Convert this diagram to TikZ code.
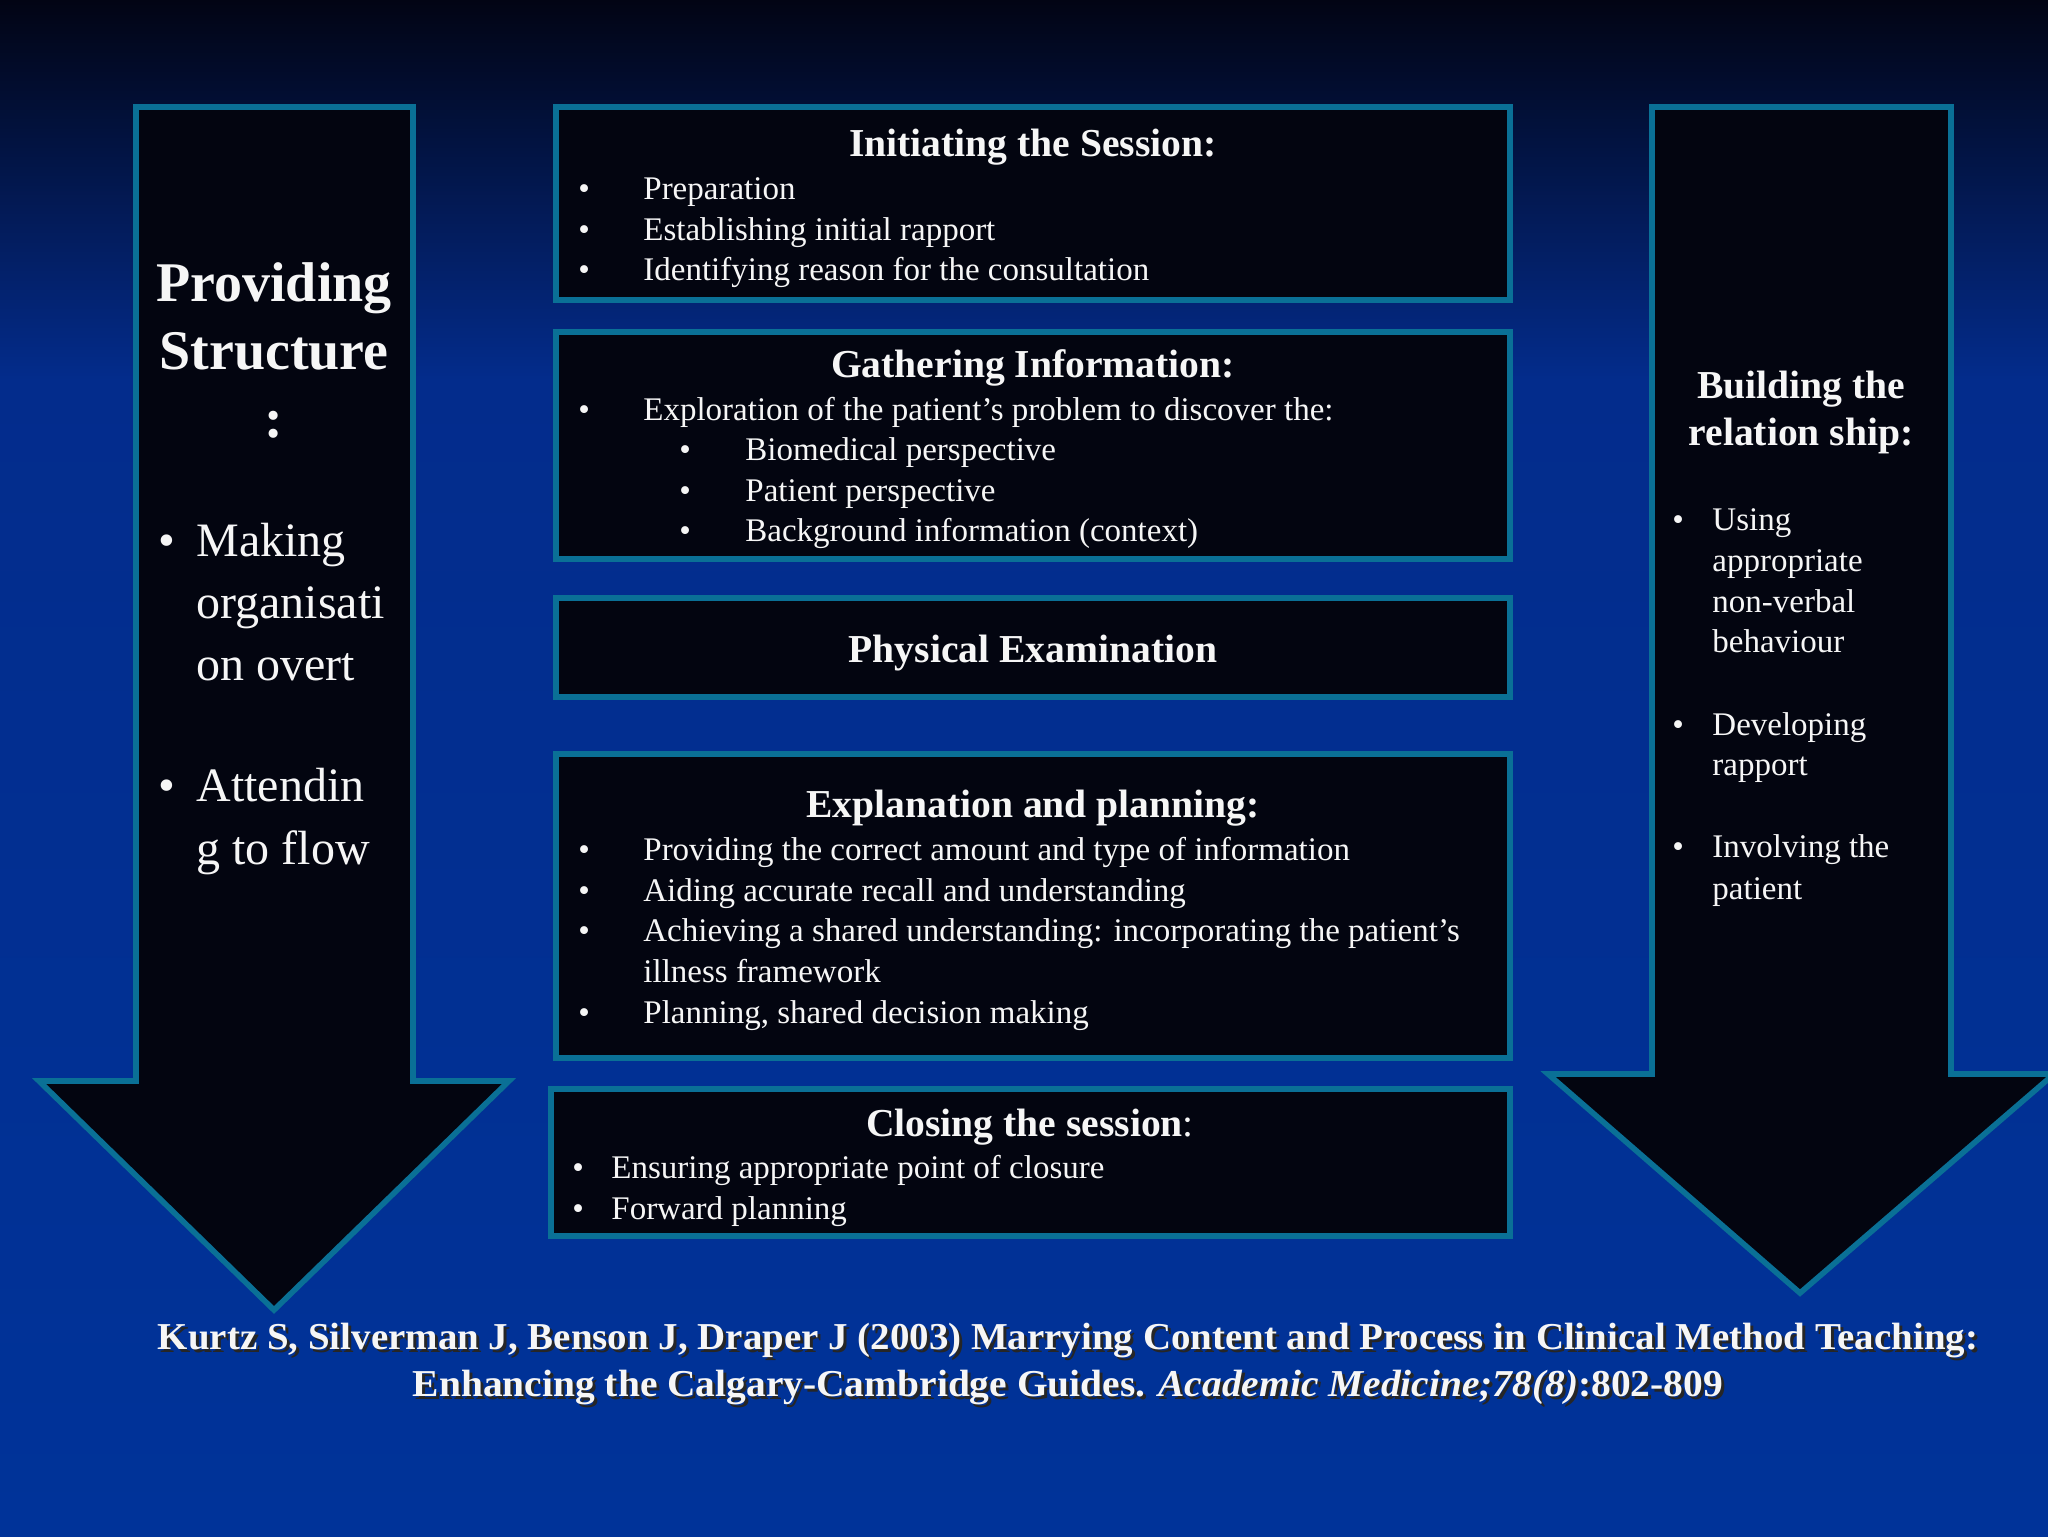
\documentclass[tikz,border=0pt]{standalone}
\usepackage{fontspec}
\setmainfont{Liberation Serif}
\definecolor{bordc}{RGB}{10,112,150}
\definecolor{boxfill}{RGB}{3,5,16}
\definecolor{bgtop}{RGB}{2,4,20}
\definecolor{bgupper}{RGB}{3,18,54}
\definecolor{bgmid}{RGB}{3,44,140}
\definecolor{bgbot}{RGB}{0,51,153}
\definecolor{txt}{RGB}{246,246,246}
\begin{document}
\begin{tikzpicture}[x=0.5pt,y=-0.5pt,
  panel/.style={draw=bordc, line width=2.8pt, fill=boxfill, line join=miter},
  body/.style={inner sep=0pt, anchor=base west, text=txt, font=\fontsize{16.5}{20}\selectfont},
  ttl/.style={inner sep=0pt, anchor=base, text=txt, font=\fontsize{19.8}{24}\selectfont\bfseries},
  bigttl/.style={inner sep=0pt, anchor=base, text=txt, font=\fontsize{28}{32}\selectfont\bfseries},
  bigbody/.style={inner sep=0pt, anchor=base west, text=txt, font=\fontsize{24}{28}\selectfont},
  cite/.style={inner sep=0pt, anchor=base, text=txt, font=\fontsize{19}{22}\selectfont\bfseries},
  citeshadow/.style={cite, text=black!85}
]
\useasboundingbox (0,0) rectangle (2048,1536);
% background
\shade[top color=bgtop, middle color=bgupper, bottom color=bgmid] (0,0) rectangle (2048,380);
\shade[top color=bgmid, bottom color=bgbot] (0,379) rectangle (2048,1536);

% left arrow
\filldraw[panel] (136,107) -- (413,107) -- (413,1081) -- (509,1081) -- (274,1310) -- (39,1081) -- (136,1081) -- cycle;
% right arrow
\filldraw[panel] (1652,107) -- (1951,107) -- (1951,1074) -- (2054,1074) -- (1800,1293) -- (1548,1074) -- (1652,1074) -- cycle;

% boxes
\filldraw[panel] (556,107) rectangle (1510,300);
\filldraw[panel] (556,332) rectangle (1510,559);
\filldraw[panel] (556,598) rectangle (1510,697);
\filldraw[panel] (556,754) rectangle (1510,1058);
\filldraw[panel] (551,1089) rectangle (1510,1236);

\begin{scope}[yshift=-1.3pt]
% left arrow text
\node[bigttl] (ps1) at (274,299) {Providing};
\node[bigttl] (ps2) at (274,367) {Structure};
\node[bigttl] (ps3) at (274,435) {:};
\node[bigbody] (lb1) at (158,554) {•};
\node[bigbody] (l1a) at (196,554) {Making};
\node[bigbody] (l1b) at (196,616) {organisati};
\node[bigbody] (l1c) at (196,678) {on overt};
\node[bigbody] (lb2) at (158,799) {•};
\node[bigbody] (l2a) at (196,799) {Attendin};
\node[bigbody] (l2b) at (196,862) {g to flow};

% right arrow text
\node[ttl] (br1) at (1801,396) {Building the};
\node[ttl] (br2) at (1801,443) {relation ship:};
\node[body] (rb1) at (1672,528) {•};
\node[body] (r1a) at (1712,528) {Using};
\node[body] (r1b) at (1712,569) {appropriate};
\node[body] (r1c) at (1712,610) {non-verbal};
\node[body] (r1d) at (1712,650) {behaviour};
\node[body] (rb2) at (1672,733) {•};
\node[body] (r2a) at (1712,733) {Developing};
\node[body] (r2b) at (1712,773) {rapport};
\node[body] (rb3) at (1672,855) {•};
\node[body] (r3a) at (1712,855) {Involving the};
\node[body] (r3b) at (1712,897) {patient};

% box 1
\node[ttl] (t1) at (1033,154) {Initiating the Session:};
\node[body] (b11) at (578,197) {•};
\node[body] (i11) at (643,197) {Preparation};
\node[body] (b12) at (578,238) {•};
\node[body] (i12) at (643,238) {Establishing initial rapport};
\node[body] (b13) at (578,278) {•};
\node[body] (i13) at (643,278) {Identifying reason for the consultation};

% box 2
\node[ttl] (t2) at (1033,375) {Gathering Information:};
\node[body] (b21) at (578,418) {•};
\node[body] (i21) at (643,418) {Exploration of\ the patient’s problem to discover the:};
\node[body] (b22) at (679,458) {•};
\node[body] (i22) at (745,458) {Biomedical perspective};
\node[body] (b23) at (679,499) {•};
\node[body] (i23) at (745,499) {Patient perspective};
\node[body] (b24) at (679,539) {•};
\node[body] (i24) at (745,539) {Background information (context)};

% box 3
\node[ttl] (t3) at (1033,660) {Physical Examination};

% box 4
\node[ttl] (t4) at (1033,815) {Explanation and planning:};
\node[body] (b41) at (578,858) {•};
\node[body] (i41) at (643,858) {Providing the correct amount and type of\ information};
\node[body] (b42) at (578,899) {•};
\node[body] (i42) at (643,899) {Aiding accurate recall and understanding};
\node[body] (b43) at (578,939) {•};
\node[body] (i43) at (643,939) {Achieving a shared understanding: incorporating the patient’s};
\node[body] (i43b) at (643,980) {illness framework};
\node[body] (b44) at (578,1021) {•};
\node[body] (i44) at (643,1021) {Planning, shared decision making};

% box 5
\node[ttl] (t5) at (1030,1134) {Closing the session\mdseries:};
\node[body] (b51) at (572,1176) {•};
\node[body] (i51) at (611,1176) {Ensuring appropriate point of\ closure};
\node[body] (b52) at (572,1217) {•};
\node[body] (i52) at (611,1217) {Forward planning};

% citation
\node[citeshadow] (c1s) at (1071,1350) {\resizebox{910pt}{\height}{Kurtz S, Silverman J, Benson J, Draper J (2003) Marrying Content and Process in Clinical Method Teaching:}};
\node[cite] (c1) at (1068,1347) {\resizebox{910pt}{\height}{Kurtz S, Silverman J, Benson J, Draper J (2003) Marrying Content and Process in Clinical Method Teaching:}};
\node[citeshadow] (c2s) at (1071,1397) {\resizebox{655pt}{\height}{Enhancing the Calgary-Cambridge Guides. \textit{Academic Medicine;78(8)}:802-809}};
\node[cite] (c2) at (1068,1394) {\resizebox{655pt}{\height}{Enhancing the Calgary-Cambridge Guides. \textit{Academic Medicine;78(8)}:802-809}};
\end{scope}
\end{tikzpicture}
\end{document}
